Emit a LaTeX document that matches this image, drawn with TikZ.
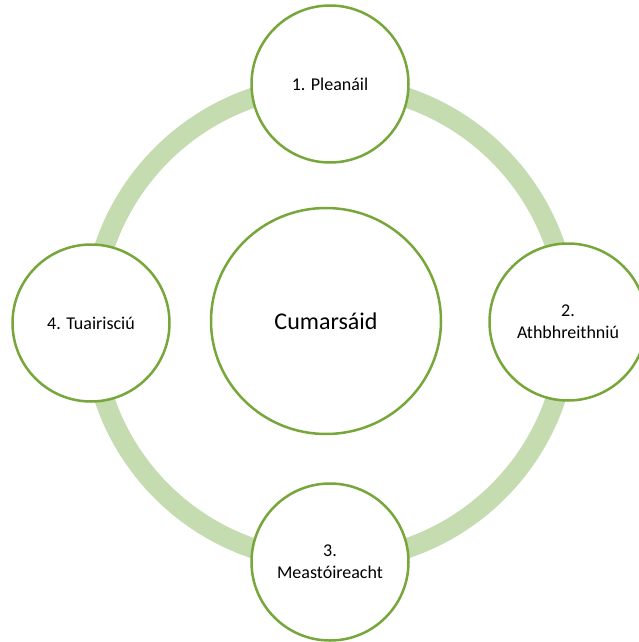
\documentclass[tikz,border=0pt]{standalone}
\usepackage{fontspec}
\setmainfont{Carlito}
\usetikzlibrary{shapes.geometric}
\definecolor{ringgreen}{HTML}{C5DCB0}
\definecolor{edgegreen}{HTML}{77A63A}

\begin{document}
\begin{tikzpicture}[x=1pt,y=-1pt,every node/.style={circle,draw=edgegreen,line width=2.5pt,fill=white,minimum size=157pt,inner sep=0pt,align=center,font=\fontsize{18}{22}\selectfont}]
	\useasboundingbox (0,0) rectangle (638,642);

	%ring
	\draw[ringgreen,line width=20pt] (330,323) circle (238pt);

	%step nodes
	\node (plan) at (330,84) {1. Pleanáil};
	\node (review) at (568,322) {2.\\Athbhreithniú};
	\node (eval) at (330,562) {3.\\Meastóireacht};
	\node (report) at (91,323) {4. Tuairisciú};

	%centre
	\node[ellipse,minimum width=230pt,minimum height=226pt,font=\fontsize{24}{29}\selectfont] (comm) at (326,321) {Cumarsáid};

\end{tikzpicture}
\end{document}
